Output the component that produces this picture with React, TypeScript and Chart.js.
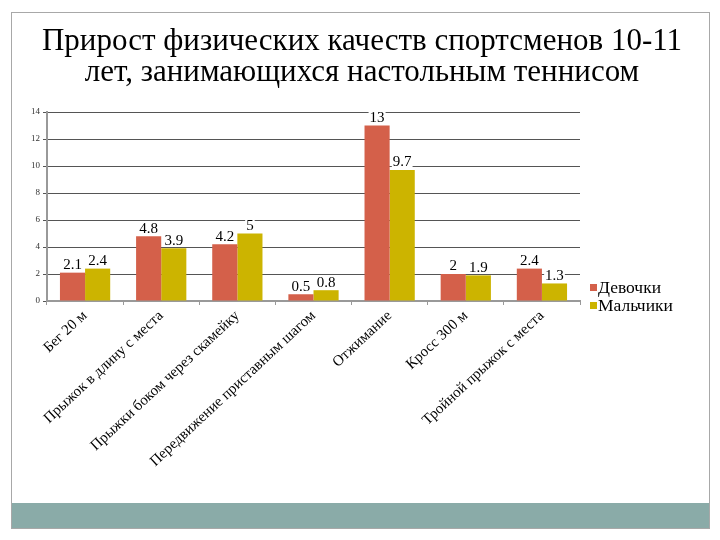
import React, { useEffect, useRef } from "react";
import { Chart, registerables } from "chart.js";

Chart.register(...registerables);

const titleLines = ["Прирост физических качеств спортсменов 10-11", "лет, занимающихся настольным теннисом"];
const categories = [
  "Бег 20 м",
  "Прыжок в длину с места",
  "Прыжки боком через скамейку",
  "Передвижение приставным шагом",
  "Отжимание",
  "Кросс 300 м",
  "Тройной прыжок с места",
];
const seriesNames = ["Девочки", "Мальчики"];
const girls = [2.1, 4.8, 4.2, 0.5, 13, 2, 2.4];
const boys = [2.4, 3.9, 5, 0.8, 9.7, 1.9, 1.3];
const colors = ["#d4604a", "#ccb400"];
const yMin = 0;
const yMax = 14;
const yStep = 2;

const SERIF = "'Liberation Serif', 'DejaVu Serif', serif";

const valueLabels = {
  id: "valueLabels",
  afterDatasetsDraw(chart: any) {
    const ctx = chart.ctx;
    ctx.save();
    ctx.font = `15px ${SERIF}`;
    ctx.textAlign = "center";
    ctx.textBaseline = "bottom";
    chart.data.datasets.forEach((ds: any, di: number) => {
      const meta = chart.getDatasetMeta(di);
      meta.data.forEach((el: any, i: number) => {
        const txt = String(ds.data[i]);
        const w = ctx.measureText(txt).width;
        const y = el.y - 1;
        ctx.fillStyle = "#ffffff";
        ctx.fillRect(el.x - w / 2 - 1, y - 13, w + 2, 12);
        ctx.fillStyle = "#000000";
        ctx.fillText(txt, el.x, y + 1);
      });
    });
    ctx.restore();
  },
};

const customLegend = {
  id: "customLegend",
  afterDraw(chart: any) {
    const ctx = chart.ctx;
    const a = chart.chartArea;
    ctx.save();
    ctx.font = `17.5px ${SERIF}`;
    ctx.textBaseline = "middle";
    ctx.textAlign = "left";
    chart.data.datasets.forEach((ds: any, i: number) => {
      const y = a.bottom - 14 + i * 18;
      const x = a.right + 10;
      ctx.fillStyle = ds.backgroundColor;
      ctx.fillRect(x, y - 3, 7, 7);
      ctx.fillStyle = "#000";
      ctx.fillText(ds.label, x + 8, y + 1);
    });
    ctx.restore();
  },
};

export default function App() {
  const ref = useRef<HTMLCanvasElement>(null);
  useEffect(() => {
    if (!ref.current) return;
    const chart = new Chart(ref.current, {
      type: "bar",
      data: {
        labels: categories,
        datasets: [
          { label: seriesNames[0], data: girls, backgroundColor: colors[0], categoryPercentage: 0.66, barPercentage: 1 },
          { label: seriesNames[1], data: boys, backgroundColor: colors[1], categoryPercentage: 0.66, barPercentage: 1 },
        ],
      },
      options: {
        responsive: false,
        animation: false,
        layout: { padding: { left: 0, right: 128, top: 99, bottom: 0 } },
        plugins: {
          legend: { display: false },
          tooltip: { enabled: false },
          title: { display: false },
        },
        scales: {
          x: {
            afterFit: (s: any) => { s.height = 201; },
            grid: { drawOnChartArea: false, drawTicks: true, tickLength: 4, color: "#999" },
            border: { color: "#999", width: 2 },
            ticks: {
              minRotation: 43,
              maxRotation: 43,
              autoSkip: false,
              color: "#000",
              padding: 2,
              font: { family: SERIF, size: 15 },
            },
          },
          y: {
            min: yMin,
            max: yMax,
            afterFit: (s: any) => { s.width = 35; },
            grid: { color: "#555", lineWidth: 1, tickLength: 4 },
            border: { color: "#999", width: 2 },
            ticks: {
              stepSize: yStep,
              color: "#333",
              padding: 3,
              font: { family: SERIF, size: 9 },
            },
          },
        },
      },
      plugins: [valueLabels, customLegend],
    });
    return () => chart.destroy();
  }, []);

  return (
    <div style={{ position: "fixed", left: 0, top: 0, width: 720, height: 540, background: "#fff" }}>
      <div
        style={{
          position: "absolute",
          left: 11,
          top: 12,
          width: 697,
          height: 515,
          border: "1px solid #a8a8a8",
        }}
      />
      <div style={{ position: "absolute", left: 12, top: 503, width: 697, height: 25, background: "#8aaba8" }} />
      <canvas
        ref={ref}
        width={696}
        height={489}
        style={{ position: "absolute", left: 12, top: 13, width: 696, height: 489 }}
      />
      <div
        style={{
          position: "absolute",
          left: 12,
          top: 24,
          width: 700,
          textAlign: "center",
          fontFamily: SERIF,
          fontSize: 31,
          lineHeight: "31px",
          color: "#000",
        }}
      >
        {titleLines.map((t) => (
          <div key={t}>{t}</div>
        ))}
      </div>
    </div>
  );
}
